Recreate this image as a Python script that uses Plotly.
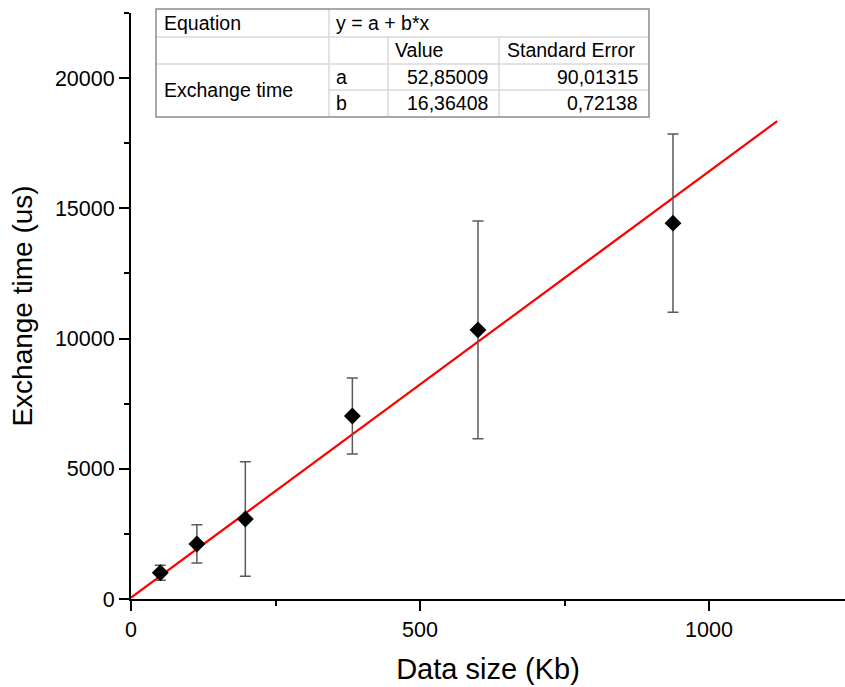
import plotly.graph_objects as go

# ---- data ----
data_size = [50.7, 114, 197.8, 383, 600.3, 937.7]
exchange_time = [1010, 2113, 3073, 7029, 10332, 14431]
error = [290, 735, 2200, 1460, 4180, 3425]

fit_a = 52.85009
fit_b = 16.36408
fit_x = [0, 1118]
fit_y = [fit_a + fit_b * v for v in fit_x]

x_ticks = [0, 500, 1000]
y_ticks = [0, 5000, 10000, 15000, 20000]

table_rows = [
    ["Equation", "y = a + b*x", "", ""],
    ["", "", "Value", "Standard Error"],
    ["Exchange time", "a", "52,85009", "90,01315"],
    ["", "b", "16,36408", "0,72138"],
]

W, H = 845, 687
L, R, T, B = 131, 0, 13, 88
PW, PH = W - L - R, H - T - B

def px(x):
    return (x - L) / PW

def py(y):
    return (H - B - y) / PH

FONT = "Liberation Sans, Arial, sans-serif"

fig = go.Figure()

fig.add_trace(go.Scatter(
    x=fit_x, y=fit_y, mode="lines",
    line=dict(color="#ff0000", width=2.3), showlegend=False, hoverinfo="skip"))

fig.add_trace(go.Scatter(
    x=data_size, y=exchange_time, mode="markers",
    marker=dict(symbol="diamond", size=13, color="black"),
    error_y=dict(type="data", array=error, visible=True, color="#5a5a5a",
                 thickness=1.5, width=5.5),
    showlegend=False))

shapes = []
tl, tr, tt, tb = 156, 649, 9, 117
inner = "#d9d9d9"
for (x0, y0, x1, y1) in [
    (tl, 37, tr, 37), (tl, 64, tr, 64), (329, 90, tr, 90),
    (329, tt, 329, tb), (388, 37, 388, tb), (499, 37, 499, tb)]:
    shapes.append(dict(type="line", xref="paper", yref="paper",
                       x0=px(x0), y0=py(y0), x1=px(x1), y1=py(y1),
                       line=dict(color=inner, width=1.5)))
shapes.append(dict(type="rect", xref="paper", yref="paper",
                   x0=px(tl), y0=py(tt), x1=px(tr), y1=py(tb),
                   line=dict(color="#8c8c8c", width=1.5), fillcolor="rgba(0,0,0,0)"))

ann = []
tfont = dict(family=FONT, size=19.5, color="black")
cell_specs = [
    (0, 0, 162, 23, "left"), (0, 1, 334, 23, "left"),
    (1, 2, 393, 50, "left"), (1, 3, 505, 50, "left"),
    (2, 0, 162, 90, "left"), (2, 1, 334, 77, "left"),
    (2, 2, 490, 77, "right"), (2, 3, 640, 77, "right"),
    (3, 1, 334, 103, "left"), (3, 2, 490, 103, "right"), (3, 3, 640, 103, "right"),
]
for r, c, x, y, anc in cell_specs:
    ann.append(dict(text=table_rows[r][c], xref="paper", yref="paper",
                    x=px(x), y=py(y), xanchor=anc, yanchor="middle",
                    showarrow=False, font=tfont))

fig.update_layout(
    width=W, height=H,
    margin=dict(l=L, r=R, t=T, b=B),
    paper_bgcolor="white", plot_bgcolor="white",
    font=dict(family=FONT, color="black"),
    shapes=shapes, annotations=ann,
    xaxis=dict(range=[0, (W - L - R) / 0.578], showgrid=False, zeroline=False,
               showline=True, linecolor="black", linewidth=2,
               ticks="outside", ticklen=10, tickwidth=2, tickcolor="black",
               tickvals=x_ticks, ticktext=[str(v) for v in x_ticks],
               tickfont=dict(size=21.5),
               minor=dict(ticks="outside", ticklen=5, tickwidth=2, tickcolor="black",
                          tickvals=[250, 750, 1250]),
               title=dict(text="Data size (Kb)", font=dict(size=29), standoff=18)),
    yaxis=dict(range=[0, 22500], showgrid=False, zeroline=False,
               showline=True, linecolor="black", linewidth=2,
               ticks="outside", ticklen=10, tickwidth=2, tickcolor="black",
               tickvals=y_ticks, ticktext=[str(v) for v in y_ticks],
               tickfont=dict(size=21.5),
               minor=dict(ticks="outside", ticklen=5, tickwidth=2, tickcolor="black",
                          tickvals=[2500, 7500, 12500, 17500, 22500]),
               title=dict(text="Exchange time (us)", font=dict(size=28), standoff=14)),
)

fig.write_html("out.html", config={"displayModeBar": False},
               post_script="document.body.style.margin='0';document.body.style.overflow='hidden';")
